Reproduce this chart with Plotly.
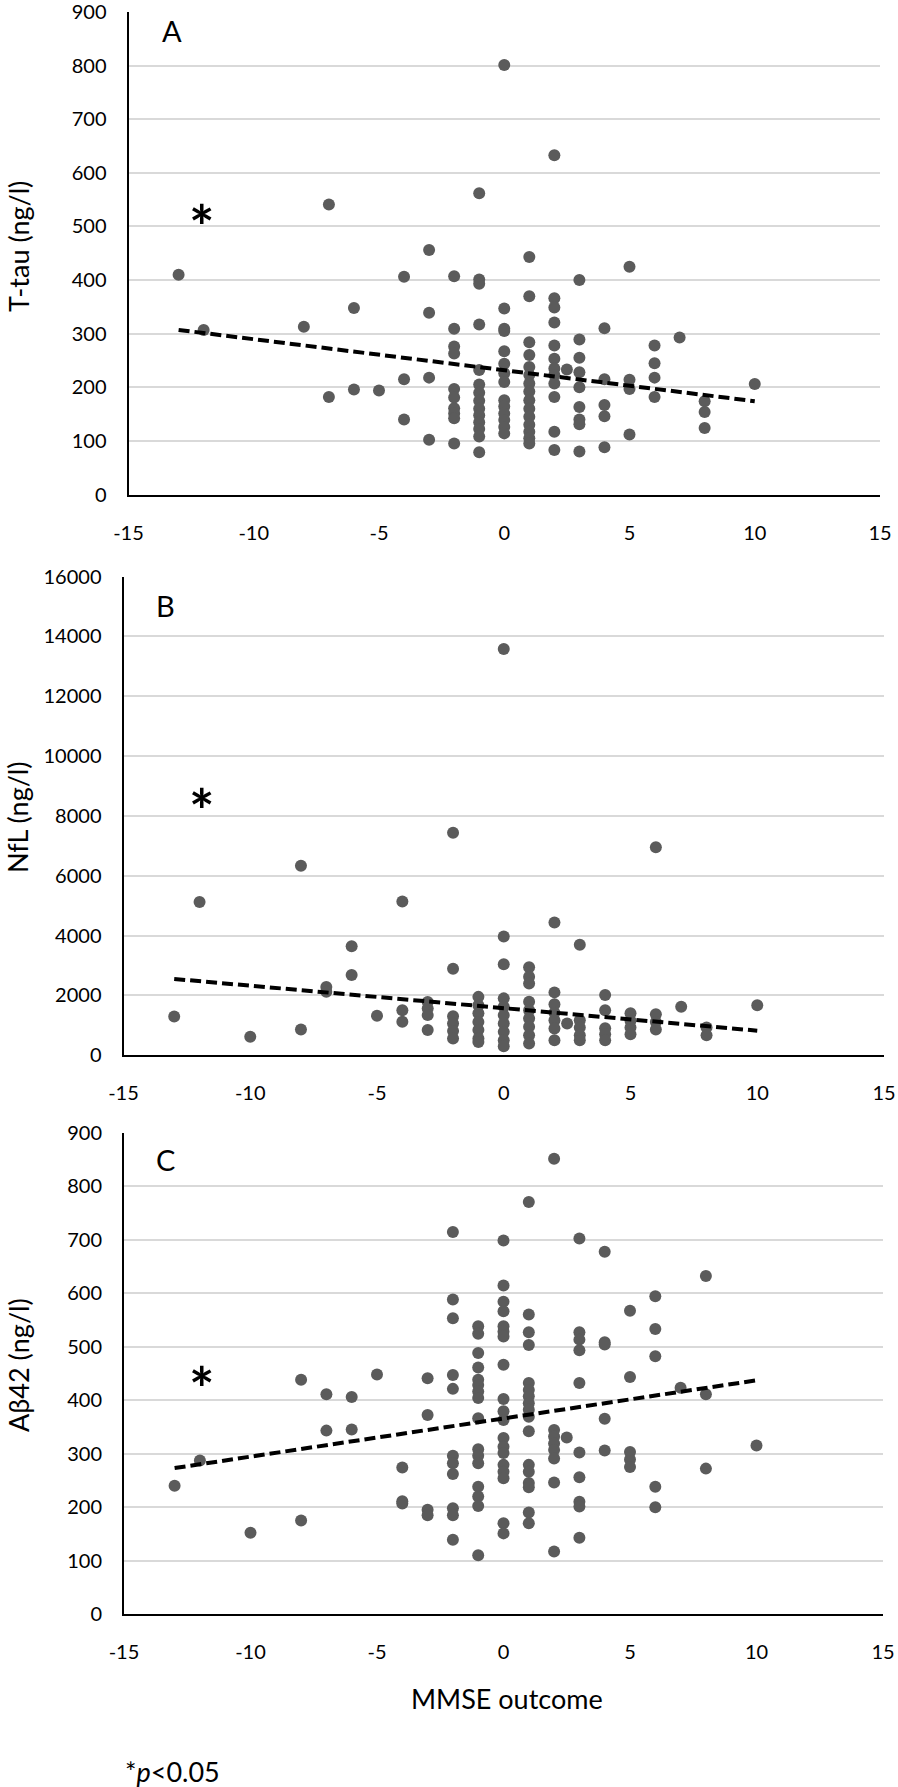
import plotly.graph_objects as go

# ---------------- data ----------------
# Panel A: MMSE outcome vs T-tau (ng/l)
mmse_a = [-13, -12, -8, -7, -7, -6, -6, -5, -4, -4, -4, -3, -3, -3, -3,
          -2, -2, -2, -2, -2, -2, -2, -2, -2, -2,
          -1, -1, -1, -1, -1, -1, -1, -1, -1, -1, -1, -1, -1, -1,
          0, 0, 0, 0, 0, 0, 0, 0, 0, 0, 0, 0, 0, 0,
          1, 1, 1, 1, 1, 1, 1, 1, 1, 1, 1, 1, 1, 1, 1,
          2, 2, 2, 2, 2, 2, 2, 2, 2, 2, 2, 2,
          2.5,
          3, 3, 3, 3, 3, 3, 3, 3, 3,
          4, 4, 4, 4, 4,
          5, 5, 5, 5,
          6, 6, 6, 6,
          7,
          8, 8, 8,
          10]
ttau_a = [410, 307, 313, 541, 182, 348, 196, 194, 406, 215, 140, 456, 339, 218, 102,
          407, 309, 276, 263, 197, 181, 161, 151, 142, 95,
          562, 401, 393, 317, 232, 205, 190, 175, 160, 148, 135, 122, 108, 79,
          801, 347, 309, 305, 267, 244, 226, 210, 176, 164, 151, 139, 126, 114,
          443, 370, 284, 260, 238, 223, 207, 192, 176, 160, 145, 130, 117, 105, 95,
          633, 366, 349, 321, 278, 253, 235, 223, 207, 182, 117, 83,
          233,
          400, 289, 255, 228, 200, 163, 140, 131, 80,
          310, 215, 167, 146, 88,
          425, 214, 197, 112,
          278, 245, 218, 182,
          293,
          174, 154, 124,
          206]

# Panel B: MMSE outcome vs NfL (ng/l)
mmse_b = [-13, -12, -10, -8, -8, -7, -7, -6, -6, -5, -4, -4, -4, -3, -3, -3, -3,
          -2, -2, -2, -2, -2, -2,
          -1, -1, -1, -1, -1, -1, -1,
          0, 0, 0, 0, 0, 0, 0, 0, 0, 0,
          1, 1, 1, 1, 1, 1, 1, 1, 1,
          2, 2, 2, 2, 2, 2, 2,
          2.5,
          3, 3, 3, 3, 3,
          4, 4, 4, 4, 4,
          5, 5, 5, 5,
          6, 6, 6, 6,
          7,
          8, 8,
          10]
nfl_b = [1290, 5120, 620, 6330, 860, 2280, 2120, 3640, 2680, 1320, 5140, 1500, 1120, 1780, 1560, 1340, 840,
         7440, 2890, 1300, 1060, 810, 560,
         1950, 1670, 1400, 1110, 840, 560, 440,
         13580, 3970, 3040, 1900, 1620, 1340, 1060, 780, 500, 300,
         2940, 2620, 2400, 1790, 1500, 1230, 950, 670, 390,
         4440, 2100, 1700, 1420, 1170, 890, 500,
         1060,
         3690, 1170, 930, 670, 500,
         2010, 1500, 900, 700, 500,
         1400, 1150, 930, 700,
         6950, 1370, 1110, 860,
         1620,
         930, 670,
         1670]

# Panel C: MMSE outcome vs Abeta42 (ng/l)
mmse_c = [-13, -12, -10, -8, -8, -7, -7, -6, -6, -5, -4, -4, -4, -3, -3, -3, -3,
          -2, -2, -2, -2, -2, -2, -2, -2, -2, -2, -2,
          -1, -1, -1, -1, -1, -1, -1, -1, -1, -1, -1, -1, -1, -1, -1, -1,
          0, 0, 0, 0, 0, 0, 0, 0, 0, 0, 0, 0, 0, 0, 0, 0, 0, 0, 0,
          1, 1, 1, 1, 1, 1, 1, 1, 1, 1, 1, 1, 1, 1, 1, 1, 1,
          2, 2, 2, 2, 2, 2, 2, 2,
          2.5,
          3, 3, 3, 3, 3, 3, 3, 3, 3, 3,
          4, 4, 4, 4, 4,
          5, 5, 5, 5, 5,
          6, 6, 6, 6, 6,
          7,
          8, 8, 8,
          10]
abeta_c = [240, 287, 152, 438, 175, 411, 343, 406, 345, 448, 274, 211, 207, 441, 372, 195, 185,
           714, 588, 553, 447, 421, 296, 282, 262, 198, 185, 139,
           538, 524, 488, 461, 438, 428, 416, 404, 366, 308, 296, 282, 238, 220, 202, 110,
           698, 614, 584, 566, 538, 528, 519, 466, 402, 379, 363, 329, 313, 301, 279, 266, 254, 170, 151,
           770, 560, 527, 503, 432, 419, 407, 394, 382, 369, 342, 279, 266, 245, 237, 190, 170,
           851, 344, 332, 319, 307, 291, 246, 117,
           330,
           702, 527, 513, 493, 432, 302, 256, 210, 201, 143,
           677, 508, 504, 365, 306,
           567, 443, 303, 289, 275,
           594, 533, 482, 238, 200,
           423,
           632, 411, 272,
           315]

# Linear trend lines (read endpoints)
trend_x = [-13, 10]
ttau_trend = [307, 174]
nfl_trend = [2550, 820]
abeta_trend = [273, 437]

x_tickvals = [-15, -10, -5, 0, 5, 10, 15]
x_ticktext = ["-15", "-10", "-5", "0", "5", "10", "15"]

panel_letters = ["A", "B", "C"]
y_titles = ["T-tau (ng/l)", "NfL (ng/l)", "A\u03b242 (ng/l)"]
y_ranges = [[0, 900], [0, 16000], [0, 900]]
y_dticks = [100, 2000, 100]

# ---------------- layout helpers ----------------
W, H = 898, 1787


def fx(p):
    return p / W


def fy(p):
    return 1 - p / H


# pixel boxes of plot areas: (left, right, top, bottom)
boxes = [(128.5, 880, 12, 494.5), (123.5, 884, 576.6, 1055.2), (124, 883, 1132.5, 1614.2)]
letter_pos = [(172, 30), (165, 605), (165, 1159)]
ytitle_pos = [247, 818, 1365]
aster_pos = [(202, 213), (202, 797), (202, 1375)]

FONT = "Lato, 'Open Sans', Arial, sans-serif"
MARK = "#5b5b5b"

fig = go.Figure()
datasets = [(mmse_a, ttau_a, ttau_trend), (mmse_b, nfl_b, nfl_trend), (mmse_c, abeta_c, abeta_trend)]
annotations = []
for i, (xs, ys, tr) in enumerate(datasets):
    sfx = "" if i == 0 else str(i + 1)
    fig.add_trace(go.Scatter(x=xs, y=ys, mode="markers",
                             marker=dict(size=12, color=MARK, line=dict(width=0)),
                             xaxis="x" + sfx, yaxis="y" + sfx, showlegend=False, hoverinfo="skip"))
    fig.add_trace(go.Scatter(x=trend_x, y=tr, mode="lines",
                             line=dict(color="black", width=4, dash="11px,5px"),
                             xaxis="x" + sfx, yaxis="y" + sfx, showlegend=False, hoverinfo="skip"))
    l, r, t, b = boxes[i]
    fig.update_layout(**{
        "xaxis" + sfx: dict(domain=[fx(l), fx(r)], anchor="y" + sfx, range=[-15, 15],
                            tickvals=x_tickvals, ticktext=x_ticktext, automargin=False,
                            ticklabeloverflow="allow",
                            showline=True, linecolor="black", linewidth=2,
                            showgrid=False, zeroline=False,
                            ticks="outside", ticklen=19, tickcolor="rgba(0,0,0,0)",
                            tickfont=dict(family=FONT, size=20, color="black")),
        "yaxis" + sfx: dict(domain=[fy(b), fy(t)], anchor="x" + sfx, range=y_ranges[i],
                            dtick=y_dticks[i], tick0=0, tickformat="d", automargin=False,
                            ticklabeloverflow="allow",
                            showline=True, linecolor="black", linewidth=2,
                            showgrid=True, gridcolor="#d9d9d9", gridwidth=1.5, zeroline=False,
                            ticks="outside", ticklen=16, tickcolor="rgba(0,0,0,0)",
                            tickfont=dict(family=FONT, size=20, color="black")),
    })
    lx, ly = letter_pos[i]
    annotations.append(dict(x=fx(lx), y=fy(ly), xref="paper", yref="paper", text=panel_letters[i],
                            showarrow=False, xanchor="center", yanchor="middle",
                            font=dict(family=FONT, size=29, color="black")))
    annotations.append(dict(x=fx(18), y=fy(ytitle_pos[i]), xref="paper", yref="paper", text=y_titles[i],
                            textangle=-90, showarrow=False, xanchor="center", yanchor="middle",
                            font=dict(family=FONT, size=27, color="black")))
    ax_, ay_ = aster_pos[i]
    annotations.append(dict(x=fx(ax_), y=fy(ay_ + 13), xref="paper", yref="paper", text="<b>*</b>",
                            showarrow=False, xanchor="center", yanchor="middle",
                            font=dict(family=FONT, size=60, color="black")))

annotations.append(dict(x=fx(507), y=fy(1698), xref="paper", yref="paper", text="MMSE outcome",
                        showarrow=False, xanchor="center", yanchor="middle",
                        font=dict(family=FONT, size=27, color="black")))
annotations.append(dict(x=fx(123), y=fy(1771), xref="paper", yref="paper", text="*<i>p</i>&lt;0.05",
                        showarrow=False, xanchor="left", yanchor="middle",
                        font=dict(family=FONT, size=27, color="black")))

fig.update_layout(width=W, height=H, margin=dict(l=0, r=0, t=0, b=0, pad=0, autoexpand=False),
                  paper_bgcolor="white", plot_bgcolor="white",
                  annotations=annotations, showlegend=False)

fig.write_html("out.html", config={"displayModeBar": False},
               post_script="document.body.style.margin='0';document.body.style.overflow='hidden';")
